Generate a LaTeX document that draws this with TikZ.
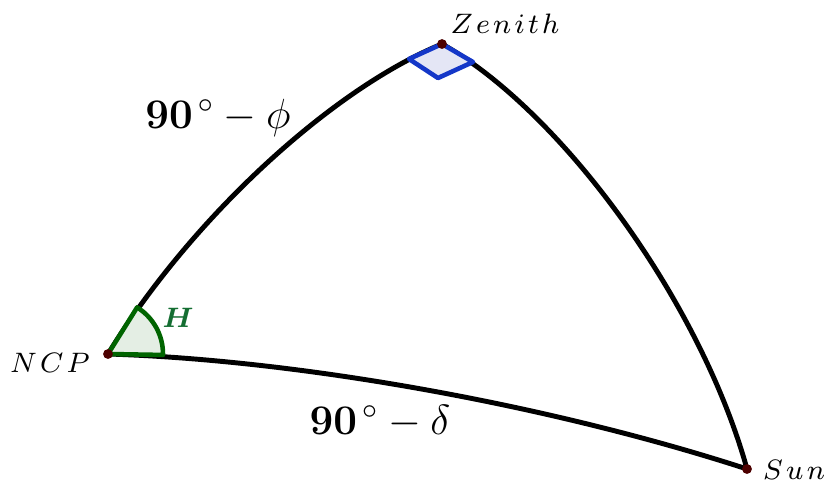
\documentclass[tikz,border=0pt]{standalone}
\usepackage{amsmath}
\usetikzlibrary{positioning}
\definecolor{dotred}{RGB}{77,0,0}
\definecolor{rightblue}{RGB}{20,55,200}
\definecolor{rightfill}{RGB}{228,230,245}
\definecolor{anggreen}{RGB}{0,100,0}
\definecolor{angfill}{RGB}{228,238,228}
\definecolor{labgreen}{RGB}{20,110,50}
\newcommand{\lsp}{\mkern2mu}
\tikzset{
  side/.style={line width=1.4pt},
  ptlabel/.style={font=\fontsize{8.5}{10}\selectfont},
  arclabel/.style={font=\fontsize{12}{14}\selectfont}
}
\begin{document}
\begin{tikzpicture}
\useasboundingbox (0,0) rectangle (8.25,4.81);
\coordinate (zen) at (4.42,4.37);
\coordinate (ncp) at (1.08,1.27);
\coordinate (sun) at (7.47,0.12);
\draw[side] (ncp) .. controls (1.90,2.61) and (3.30,3.91) .. (zen);
\draw[side] (zen) .. controls (5.60,3.71) and (7.00,1.81) .. (sun);
\draw[side] (ncp) .. controls (3.00,1.21) and (5.50,0.76) .. (sun);
% right angle at the zenith
\filldraw[fill=rightfill,draw=rightblue,line width=1.3pt,line join=round] (zen) -- (4.09,4.22) -- (4.38,4.03) -- (4.73,4.19) -- cycle;
% hour angle
\filldraw[fill=angfill,draw=anggreen,line width=1.3pt,line join=round] (ncp) -- ++(-1:0.55) arc[start angle=-1,end angle=58,radius=0.55] -- cycle;
\fill[dotred] (zen) circle (1.4pt);
\fill[dotred] (ncp) circle (1.4pt);
\fill[dotred] (sun) circle (1.4pt);
\node[ptlabel] (zenlab) at (5.05,4.57) {$Z\lsp e\lsp n\lsp i\lsp t\lsp h$};
\node[ptlabel] (ncplab) at (0.50,1.18) {$N\lsp C\lsp P$};
\node[ptlabel] (sunlab) at (7.94,0.11) {$S\lsp u\lsp n$};
\node[font=\footnotesize\boldmath,text=labgreen] (hlab) at (1.78,1.63) {$H$};
\node[arclabel] (colat) at (2.18,3.63) {$\mathbf{90}^{\,\circ}-\phi$};
\node[arclabel] (codec) at (3.80,0.59) {$\mathbf{90}^{\,\circ}-\delta$};
\end{tikzpicture}
\end{document}
